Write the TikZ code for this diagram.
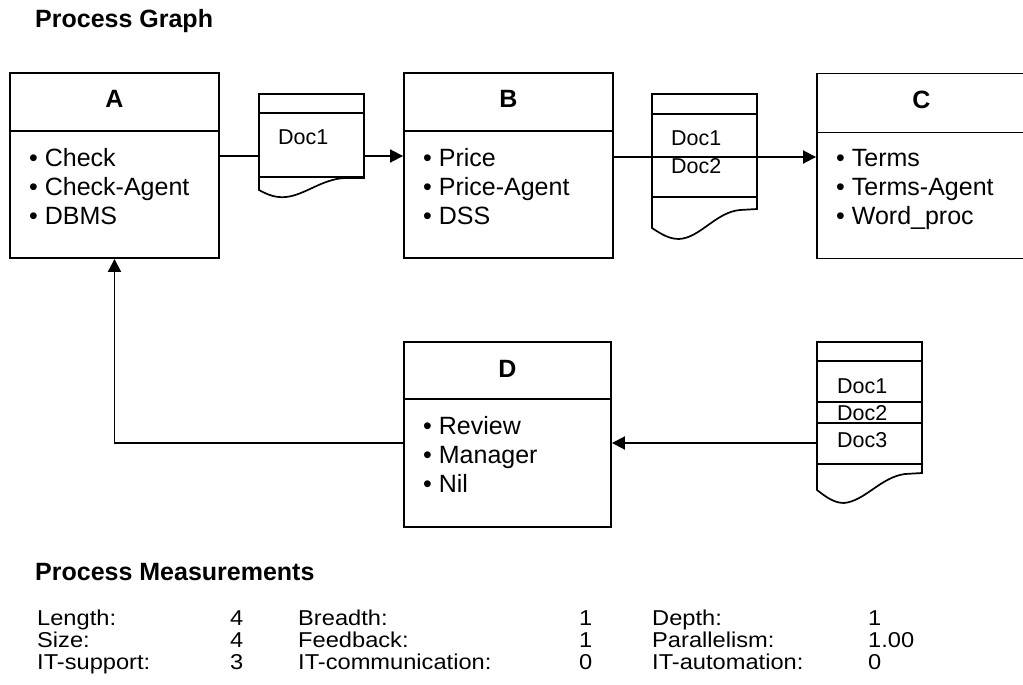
\documentclass[tikz,border=0pt]{standalone}
\usepackage{fontspec}
\setmainfont{Liberation Sans}
\newfontfamily\tabfont[FakeStretch=1.1]{Liberation Sans}
\usetikzlibrary{arrows.meta}
\begin{document}
\begin{tikzpicture}[x=1pt,y=-1pt,
  procbox/.style={draw, line width=1.9pt, minimum height=185pt, inner sep=0pt},
  docbody/.style={draw, line width=1.7pt, minimum width=105pt, inner sep=0pt},
  rule/.style={line width=1.7pt},
  flow/.style={line width=1.9pt},
  arrow/.style={flow, -{Triangle[length=13pt,width=13pt]}},
  head/.style={inner sep=0pt, font=\fontsize{25}{30}\selectfont\bfseries},
  item/.style={anchor=base west, inner sep=0pt, font=\fontsize{25}{30}\selectfont},
  doctext/.style={anchor=base west, inner sep=0pt, font=\fontsize{21.5}{25}\selectfont},
  tabtext/.style={anchor=base west, inner sep=0pt, font=\tabfont\fontsize{21.5}{24}\selectfont},
]
\useasboundingbox (0,0) rectangle (1023,685);

% heading
\node[head, anchor=base west] (title) at (35,28) {Process Graph};

% process boxes
\node[procbox, minimum width=209pt] (A) at (114.5,165.5) {};
\draw[rule] (A.north west) ++(0,59) -- ++(209,0);
\node[head, anchor=base] (Alab) at (114.5,107.5) {A};
\node[item] (A1) at (29,166) {• Check};
\node[item] (A2) at (29,195) {• Check-Agent};
\node[item] (A3) at (29,224) {• DBMS};

\node[procbox, minimum width=209pt] (B) at (508.5,165.5) {};
\draw[rule] (B.north west) ++(0,59) -- ++(209,0);
\node[head, anchor=base] (Blab) at (508.5,107.5) {B};
\node[item] (B1) at (423,166) {• Price};
\node[item] (B2) at (423,195) {• Price-Agent};
\node[item] (B3) at (423,224) {• DSS};

\node[procbox, minimum width=211pt] (C) at (922.5,166) {};
\draw[rule] (C.north west) ++(0,60) -- ++(211,0);
\node[head, anchor=base] (Clab) at (921.5,108) {C};
\node[item] (C1) at (836,166) {• Terms};
\node[item] (C2) at (836,195) {• Terms-Agent};
\node[item] (C3) at (836,224) {• Word\_proc};

\node[procbox, minimum width=207pt] (D) at (507.5,434.5) {};
\draw[rule] (D.north west) ++(0,58) -- ++(207,0);
\node[head, anchor=base] (Dlab) at (507.5,377) {D};
\node[item] (D1) at (423,434) {• Review};
\node[item] (D2) at (423,463) {• Manager};
\node[item] (D3) at (423,492) {• Nil};

% documents
\node[docbody, minimum height=83pt] (doc1) at (311.5,135.5) {};
\draw[rule] (doc1.north west) ++(0,20) -- ++(105,0);
\draw[rule] (259,177) -- (259,190) .. controls (268,195) and (276,198) .. (286,197)
  .. controls (305,195) and (322,179) .. (345,178) -- (364,178) -- (364,177);
\node[doctext] (d1a) at (278,144.5) {Doc1};

\node[docbody, minimum height=103pt] (doc2) at (704.5,145.5) {};
\draw[rule] (doc2.north west) ++(0,21) -- ++(105,0);
\draw[rule] (652,197) -- (652,228) .. controls (661,234) and (669,239) .. (679,239)
  .. controls (700,238) and (716,212) .. (740,210) -- (757,209) -- (757,197);
\node[doctext] (d2a) at (671,145.5) {Doc1};
\node[doctext] (d2b) at (671,173.5) {Doc2};

\node[docbody, minimum height=122pt] (doc3) at (869.5,403) {};
\draw[rule] (doc3.north west) ++(0,20) -- ++(105,0);
\draw[rule] (doc3.north west) ++(0,61) -- ++(105,0);
\draw[rule] (doc3.north west) ++(0,82) -- ++(105,0);
\draw[rule] (817,464) -- (817,490) .. controls (826,497) and (834,503) .. (844,503)
  .. controls (865,501) and (881,477) .. (905,474) -- (922,473) -- (922,464);
\node[doctext] (d3a) at (837,393.5) {Doc1};
\node[doctext] (d3b) at (837,420.5) {Doc2};
\node[doctext] (d3c) at (837,447.5) {Doc3};

% flow levels
\coordinate (f1) at (0,156);
\coordinate (f2) at (0,157);
\coordinate (f3) at (0,443);

% connectors
\draw[flow] (A.east |- f1) -- (doc1.west |- f1);
\draw[arrow] (doc1.east |- f1) -- (B.west |- f1);
\draw[arrow] (B.east |- f2) -- (C.west |- f2);
\draw[arrow] (doc3.west |- f3) -- (D.east |- f3);
\draw[arrow] (D.west |- f3) -| (A.south);

% measurements
\node[head, anchor=base west] (mtitle) at (35,580) {Process Measurements};
\node[tabtext] at (37,625) {Length:};
\node[tabtext] at (230,625) {4};
\node[tabtext] at (298,625) {Breadth:};
\node[tabtext] at (579,625) {1};
\node[tabtext] at (652,625) {Depth:};
\node[tabtext] at (868,625) {1};

\node[tabtext] at (37,647) {Size:};
\node[tabtext] at (230,647) {4};
\node[tabtext] at (298,647) {Feedback:};
\node[tabtext] at (579,647) {1};
\node[tabtext] at (652,647) {Parallelism:};
\node[tabtext] at (868,647) {1.00};

\node[tabtext] at (37,669) {IT-support:};
\node[tabtext] at (230,669) {3};
\node[tabtext] at (298,669) {IT-communication:};
\node[tabtext] at (579,669) {0};
\node[tabtext] at (652,669) {IT-automation:};
\node[tabtext] at (868,669) {0};
\end{tikzpicture}
\end{document}
